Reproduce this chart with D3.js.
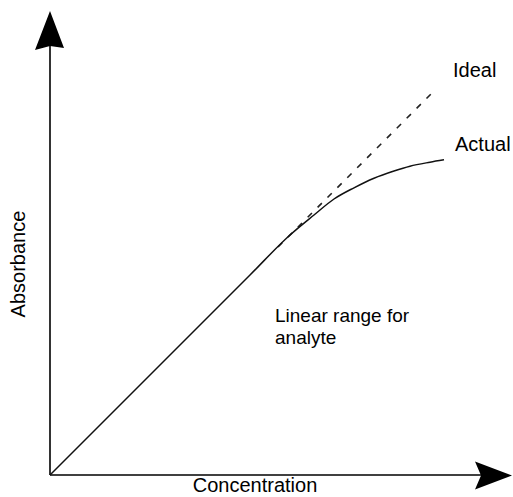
<!DOCTYPE html>
<html>
<head>
<meta charset="utf-8">
<script src="https://cdn.jsdelivr.net/npm/d3@7"></script>
<style>
  body { margin: 0; background: #fff; }
  svg text { font-family: Arial, "Liberation Sans", sans-serif; font-size: 20px; fill: #000; }
</style>
</head>
<body>
<svg width="513" height="497"></svg>
<script>
// concentration / absorbance in arbitrary units
var idealCurve = [[0, 0], [95.5, 95.5]];
var idealDashedFrom = 57;
var actualCurve = [
  [0, 0], [50, 50], [60, 60], [66, 65], [71, 69], [76, 71.8],
  [81, 74.2], [86, 76], [90, 77.2], [95, 78.2], [98.5, 78.8]
];
var seriesLabels = ["Ideal", "Actual"];
var axisTitles = ["Concentration", "Absorbance"];
var rangeNote = ["Linear range for", "analyte"];

var svg = d3.select("svg");

var x = d3.scaleLinear().domain([0, 100]).range([50, 450]);
var y = d3.scaleLinear().domain([0, 100]).range([475, 75]);

var line = d3.line()
  .x(function(d) { return x(d[0]); })
  .y(function(d) { return y(d[1]); });

// axes as plain lines with filled arrow heads
var xEnd = x(115.5), yEnd = y(116);

svg.append("line")
  .attr("x1", x(0)).attr("y1", y(0))
  .attr("x2", xEnd - 30).attr("y2", y(0))
  .attr("stroke", "#000").attr("stroke-width", 1.6);

svg.append("line")
  .attr("x1", x(0)).attr("y1", y(0))
  .attr("x2", x(0)).attr("y2", yEnd + 30)
  .attr("stroke", "#000").attr("stroke-width", 1.6);

// up arrow
var ax = x(0), ay = yEnd;
svg.append("path")
  .attr("d", "M" + ax + "," + ay +
    " L" + (ax + 14) + "," + (ay + 37) +
    " L" + ax + "," + (ay + 35) +
    " L" + (ax - 15) + "," + (ay + 39) + "Z")
  .attr("fill", "#000");

// right arrow
var bx = xEnd, by = y(0) + 0.5;
svg.append("path")
  .attr("d", "M" + bx + "," + by +
    " L" + (bx - 37) + "," + (by - 14) +
    " L" + (bx - 31) + "," + by +
    " L" + (bx - 37) + "," + (by + 14) + "Z")
  .attr("fill", "#000");

// ideal (dashed beyond the linear range)
svg.append("path")
  .datum(idealCurve.map(function(d, i) {
    return i === 0 ? [idealDashedFrom, idealDashedFrom] : d;
  }))
  .attr("d", line)
  .attr("fill", "none")
  .attr("stroke", "#222")
  .attr("stroke-width", 1.6)
  .attr("stroke-dasharray", "6,8");

// actual
svg.append("path")
  .datum(actualCurve)
  .attr("d", line.curve(d3.curveMonotoneX))
  .attr("fill", "none")
  .attr("stroke", "#111")
  .attr("stroke-width", 1.5);

// labels
svg.append("text")
  .attr("x", 453).attr("y", 77)
  .text(seriesLabels[0]);

svg.append("text")
  .attr("x", 455).attr("y", 151)
  .text(seriesLabels[1]);

svg.append("text")
  .attr("x", 275).attr("y", 322)
  .style("font-size", "19px")
  .selectAll("tspan")
  .data(rangeNote)
  .enter()
  .append("tspan")
  .attr("x", 275)
  .attr("dy", function(d, i) { return i === 0 ? 0 : 22; })
  .text(function(d) { return d; });

svg.append("text")
  .attr("x", 255).attr("y", 492)
  .attr("text-anchor", "middle")
  .text(axisTitles[0]);

svg.append("text")
  .attr("transform", "translate(25,264) rotate(-90)")
  .attr("text-anchor", "middle")
  .text(axisTitles[1]);
</script>
</body>
</html>
